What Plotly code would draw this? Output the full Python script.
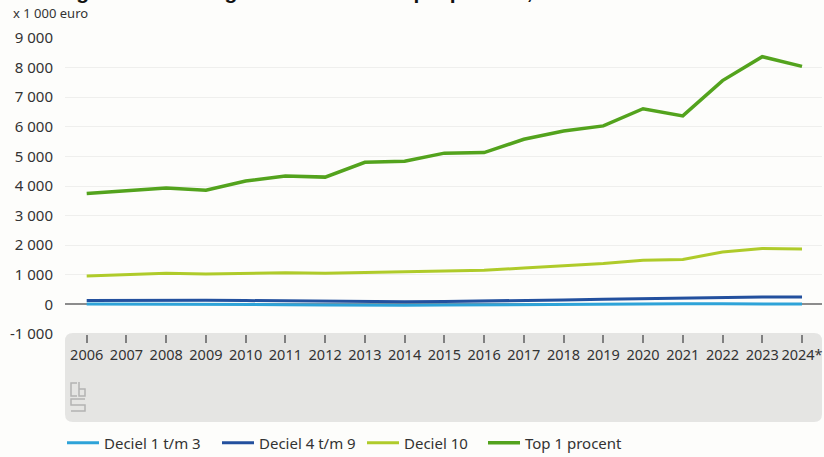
import plotly.graph_objects as go

years = list(range(2006, 2025))
year_labels = [str(y) for y in range(2006, 2024)] + ["2024*"]

dec1_3 = [10, 10, 10, 0, -10, -10, -20, -30, -30, -20, -10, -10, -10, 0, 10, 20, 20, 10, 10]
dec4_9 = [130, 140, 150, 140, 130, 120, 110, 90, 90, 100, 110, 130, 150, 170, 190, 210, 250, 250, 250]
dec10 = [960, 1000, 1050, 1030, 1060, 1070, 1050, 1080, 1090, 1130, 1150, 1230, 1310, 1380, 1490, 1520, 1770, 1890, 1870]
top1 = [3750, 3830, 3930, 3860, 4170, 4340, 4300, 4800, 4840, 5110, 5130, 5580, 5860, 6030, 6610, 6370, 7560, 8370, 8040]

series_names = ["Deciel 1 t/m 3", "Deciel 4 t/m 9", "Deciel 10", "Top 1 procent"]
series_values = [dec1_3, dec4_9, dec10, top1]
series_colors = ["#2ea3d8", "#23509e", "#afcb2a", "#53a31d"]
series_widths = [3, 3, 3, 3.5]

y_ticks = [-1000, 0, 1000, 2000, 3000, 4000, 5000, 6000, 7000, 8000, 9000]
y_labels = ["-1 000", "0", "1 000", "2 000", "3 000", "4 000", "5 000", "6 000", "7 000", "8 000", "9 000"]

W, H = 824, 457
ML, MR, MT, MB = 65, 2, 38, 123
PW, PH = W - ML - MR, H - MT - MB


def px(x):
    return (x - ML) / PW


def py(y):
    return (H - MB - y) / PH


FONT = "Noto Sans"
TXT = "#333333"

legend_ids = ["legend", "legend2", "legend3", "legend4"]
legend_x = [62, 217, 362, 483]

fig = go.Figure()
for name, vals, col, lw, lid in zip(series_names, series_values, series_colors, series_widths, legend_ids):
    fig.add_trace(go.Scatter(x=years, y=vals, mode="lines", name=name, legend=lid,
                             line=dict(color=col, width=lw), hoverinfo="skip"))

# gray panel with rounded corners (paper coords)
x0, x1 = px(65), px(822)
y0, y1 = py(422), py(333)
rx, ry = 8 / PW, 8 / PH
panel = (f"M {x0+rx},{y1} L {x1-rx},{y1} Q {x1},{y1} {x1},{y1-ry} "
         f"L {x1},{y0+ry} Q {x1},{y0} {x1-rx},{y0} L {x0+rx},{y0} "
         f"Q {x0},{y0} {x0},{y0+ry} L {x0},{y1-ry} Q {x0},{y1} {x0+rx},{y1} Z")

shapes = [dict(type="path", path=panel, xref="paper", yref="paper",
               fillcolor="#e5e5e3", line=dict(width=0), layer="below")]


def P(pts):
    return "M " + " L ".join(f"{px(a)},{py(b)}" for a, b in pts)


logo_paths = [
    P([(77, 383), (71, 383), (71, 396), (77, 396)]),
    P([(79, 382), (79, 396), (85, 396), (85, 389), (79, 389)]),
    P([(85, 399), (71, 399), (71, 405), (85, 405), (85, 411), (71, 411)]),
]
for p in logo_paths:
    shapes.append(dict(type="path", path=p, xref="paper", yref="paper",
                       line=dict(color="#b3b3b3", width=1.5), layer="above"))

annotations = [
    dict(text="<b>Vermogen van vermogensdecielen en top 1 procent, 2006-2024*</b>",
         xref="paper", yref="paper", x=px(10), y=py(5), xanchor="left", yanchor="bottom",
         showarrow=False, font=dict(family="Liberation Sans", size=21, color="#111111")),
    dict(text="x 1 000 euro", xref="paper", yref="paper", x=px(11), y=py(24),
         xanchor="left", yanchor="bottom", showarrow=False,
         font=dict(family=FONT, size=13, color=TXT)),
]

layout_legends = {}
for lid, lx in zip(legend_ids, legend_x):
    layout_legends[lid] = dict(orientation="h", xref="container", yref="container",
                               x=lx / W, y=1 - 443 / H, xanchor="left", yanchor="middle",
                               font=dict(family=FONT, size=15, color=TXT), itemwidth=32,
                               bgcolor="rgba(0,0,0,0)")

fig.update_layout(
    width=W, height=H,
    margin=dict(l=ML, r=MR, t=MT, b=MB, pad=0, autoexpand=False),
    paper_bgcolor="#fdfdfb", plot_bgcolor="#fdfdfb",
    font=dict(family=FONT, size=14, color=TXT),
    showlegend=True,
    xaxis=dict(range=[2005.454, 2024.503], tickvals=years, ticktext=year_labels,
               tickangle=0, ticks="outside", ticklen=8, tickwidth=1.5, tickcolor="#808080",
               showgrid=False, zeroline=False, showline=False, ticklabeloverflow="allow",
               tickfont=dict(family=FONT, size=14.5, color=TXT), fixedrange=True),
    yaxis=dict(range=[-1000, 9000], tickvals=y_ticks, ticktext=y_labels,
               showgrid=True, gridcolor="#efefed", gridwidth=1,
               zeroline=True, zerolinecolor="#8c8c8c", zerolinewidth=1.5,
               showline=False, ticks="outside", ticklen=8, tickcolor="rgba(0,0,0,0)",
               tickfont=dict(family=FONT, size=15, color=TXT), fixedrange=True),
    shapes=shapes, annotations=annotations,
    hovermode=False,
    **layout_legends,
)

fig.write_html("out.html", config={"displayModeBar": False},
               post_script="document.body.style.margin='0';document.body.style.background='#fdfdfb';")
